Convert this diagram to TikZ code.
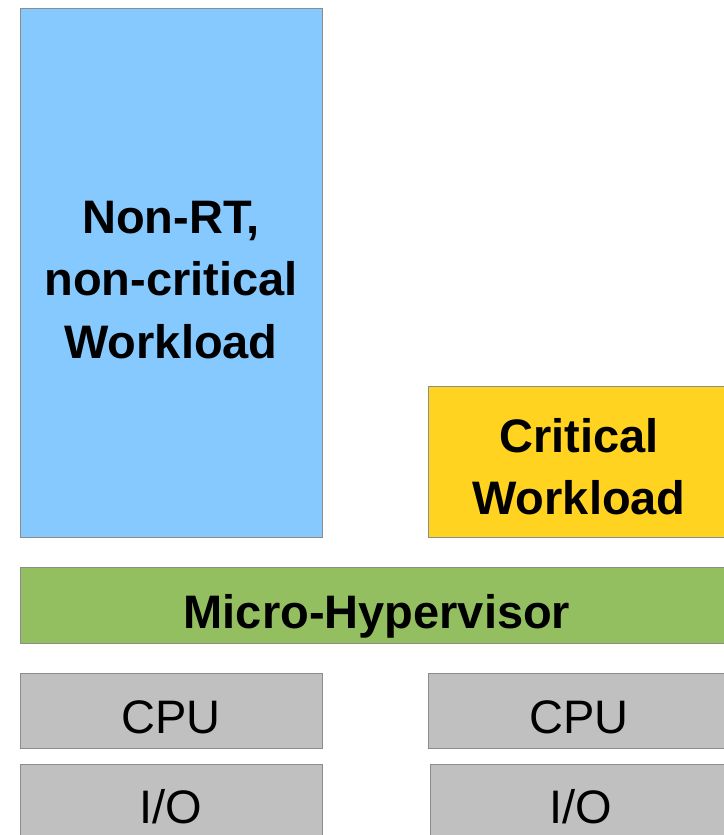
\documentclass[tikz,border=0pt]{standalone}
\usepackage{fontspec}
\setmainfont{Liberation Sans}
\definecolor{edgegray}{HTML}{8C8C8C}
\definecolor{skyblue}{HTML}{85C9FF}
\definecolor{crityellow}{HTML}{FFD320}
\definecolor{hvgreen}{HTML}{93BF60}
\definecolor{hwgray}{HTML}{C0C0C0}
\begin{document}
\begin{tikzpicture}[x=1bp,y=-1bp,
  block/.style={draw=edgegray, line width=1bp, inner sep=0pt, anchor=north west},
  boldtxt/.style={font=\fontsize{47bp}{58bp}\selectfont\bfseries, anchor=base, inner sep=0pt},
  plaintxt/.style={font=\fontsize{47bp}{58bp}\selectfont, anchor=base, inner sep=0pt}]
\useasboundingbox (0,0) rectangle (724,835);
\clip (0,0) rectangle (724,835);

% workloads
\node[block, fill=skyblue, minimum width=302bp, minimum height=529bp] (nonrt) at (20,8) {};
\node[boldtxt] (nonrtA) at (171,233) {Non-RT,};
\node[boldtxt] (nonrtB) at (171,295) {non-critical};
\node[boldtxt] (nonrtC) at (171,358) {Workload};

\node[block, fill=crityellow, minimum width=302bp, minimum height=151bp] (crit) at (428,386) {};
\node[boldtxt] (critA) at (579,452) {Critical};
\node[boldtxt] (critB) at (579,514) {Workload};

% hypervisor layer
\node[block, fill=hvgreen, minimum width=712bp, minimum height=76bp] (hyp) at (20,567) {};
\node[boldtxt] (hypT) at (377,628) {Micro-Hypervisor};

% hardware
\node[block, fill=hwgray, minimum width=302bp, minimum height=75bp] (cpuL) at (20,673) {};
\node[plaintxt] (cpuLT) at (171,733) {CPU};
\node[block, fill=hwgray, minimum width=302bp, minimum height=75bp] (cpuR) at (428,673) {};
\node[plaintxt] (cpuRT) at (579,733) {CPU};

\node[block, fill=hwgray, minimum width=302bp, minimum height=80bp] (ioL) at (20,764) {};
\node[plaintxt] (ioLT) at (171,823) {I/O};
\node[block, fill=hwgray, minimum width=302bp, minimum height=80bp] (ioR) at (430,764) {};
\node[plaintxt] (ioRT) at (581,823) {I/O};
\end{tikzpicture}
\end{document}
